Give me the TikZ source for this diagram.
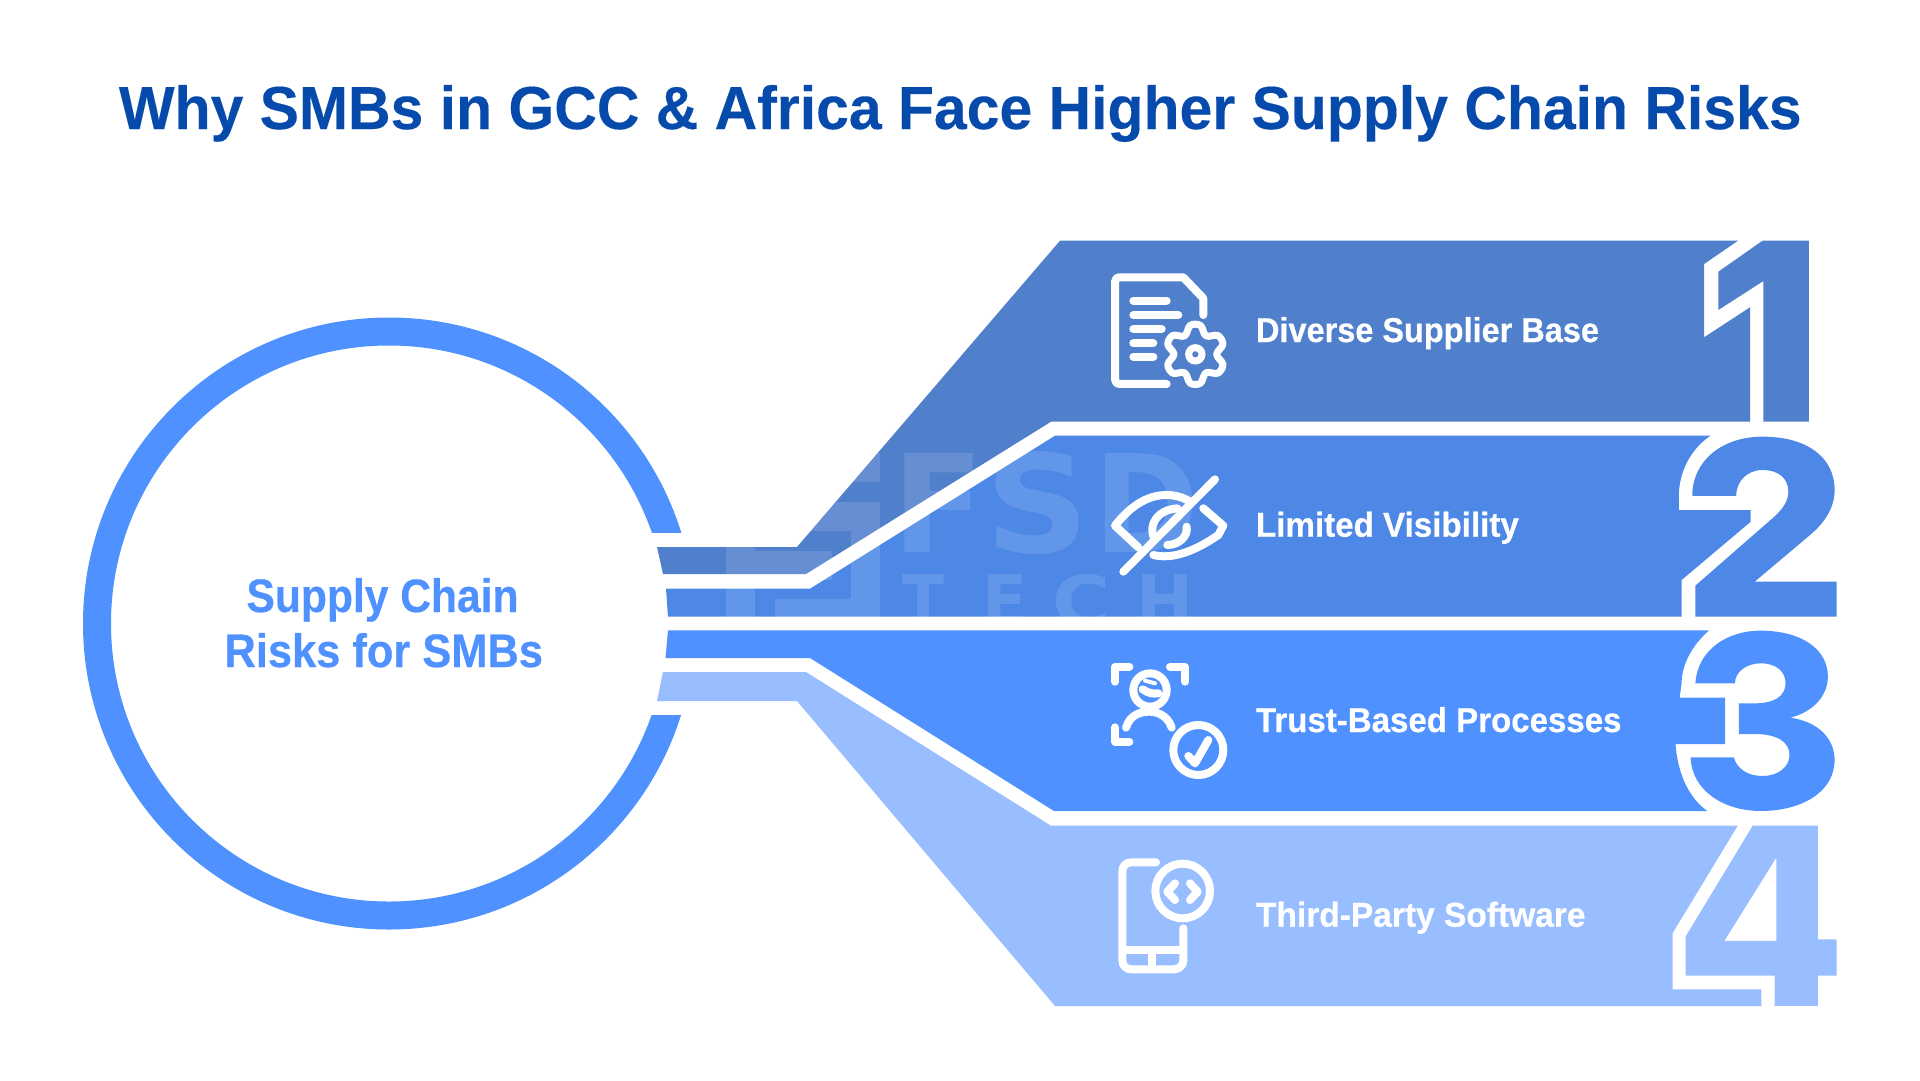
\documentclass[tikz,border=0pt]{standalone}
\usepackage{graphicx}
\usepackage{fontspec}
\setmainfont{Liberation Sans}
\newfontfamily\heavyfont{Liberation Sans}[BoldFeatures={FakeBold=0.5}]
\newfontfamily\titlefont{Liberation Sans}[BoldFeatures={FakeBold=0.25}]
\newfontfamily\wmfont{DejaVu Sans}
\definecolor{barA}{HTML}{5080CC}
\definecolor{barB}{HTML}{4D88E6}
\definecolor{barC}{HTML}{4F92FF}
\definecolor{barD}{HTML}{99BEFF}
\definecolor{titleblue}{HTML}{064BAC}
\tikzset{
  zup/.style={xshift=1300pt,yshift=-220pt,x=0.3954pt,y=-0.3333pt},
  zlow/.style={xshift=1300pt,yshift=-620pt,x=0.3954pt,y=-0.3333pt},
  iconbox/.style={x=0.3333pt,y=-0.3333pt},
  iconline/.style={draw=white,line cap=round,line join=round,line width=8pt},
  thinline/.style={draw=white,line cap=round,line join=round,line width=7pt},
  txt/.style={inner sep=0pt,outer sep=0pt,anchor=base west},
  wmark/.style={inner sep=0pt,outer sep=0pt,anchor=base west,text=white,text opacity=0.12},
}
\newcommand{\fitbold}[3]{\resizebox{#1pt}{#2pt}{\heavyfont\bfseries #3}}
\newcommand{\fittitle}[3]{\resizebox{#1pt}{#2pt}{\titlefont\bfseries #3}}
\newcommand{\fitmark}[3]{\resizebox{#1pt}{#2pt}{\wmfont\bfseries #3}}
\begin{document}
\begin{tikzpicture}[x=1pt,y=-1pt]
\useasboundingbox (0,0) rectangle (1920,1080);
\fill[white] (0,0) rectangle (1920,1080);

% title
\node[txt,text=titleblue] (title) at (119,129) {\fittitle{1682}{44}{Why SMBs in GCC \& Africa Face Higher Supply Chain Risks}};

% ring
\fill[barC,even odd rule] (389,623.5) circle[radius=306] (389,623.5) circle[radius=278];
\fill[white] (640,532.7) rectangle (700,714.6);

% bars
\fill[barA] (657,547) -- (797,547) -- (1060,240.7) -- (1738,240.7) -- (1704.1,264) -- (1704.1,337.3) -- (1750,307.3) -- (1750,421.7) -- (1051,421.7) -- (806,574) -- (663,574) -- cycle;
\begin{scope}[zup]
\fill[barA] (1170,62) -- (1058,155) -- (1058,270) -- (1172,183) -- (1172,605) -- (1287,605) -- (1287,62) -- cycle;
\end{scope}

\fill[barB] (666,588.7) -- (810,588.7) -- (1055,435.7) -- (1710.4,435.7) .. controls (1689.5,450) and (1678.8,473) .. (1678.8,496.7) -- (1678.8,510) -- (1750.7,510) -- (1750.7,521.7) -- (1681.6,580) -- (1681.6,616.7) -- (668,616.7) -- cycle;
\begin{scope}[zup]
\fill[barB] (1000,1190) -- (1000,1097) -- (1190,900) .. controls (1220,870) and (1235,845) .. (1235,815) .. controls (1235,775) and (1210,750) .. (1170,750) .. controls (1130,750) and (1103,785) .. (1103,828) -- (992,828) .. controls (992,725) and (1065,650) .. (1170,650) .. controls (1280,650) and (1352,710) .. (1352,810) .. controls (1352,860) and (1330,905) .. (1290,945) -- (1150,1085) -- (1357,1085) -- (1357,1190) -- cycle;
\end{scope}

\fill[barC] (668,630.3) -- (1709.2,630.3) .. controls (1692,645) and (1681.6,665) .. (1681.6,683.3) -- (1679.6,697.7) -- (1725,697.7) -- (1725,744) -- (1675.6,744) .. controls (1677.6,776.7) and (1691.4,800) .. (1707.3,811) -- (1054,811) -- (810,658) -- (665.5,658) -- cycle;
\begin{scope}[zlow]
\fill[barC] (1000,190) .. controls (1005,90) and (1080,32) .. (1165,32) .. controls (1265,32) and (1335,85) .. (1335,170) .. controls (1335,225) and (1300,275) .. (1240,293) .. controls (1310,305) and (1352,355) .. (1352,420) .. controls (1352,515) and (1270,573) .. (1165,573) .. controls (1070,573) and (990,510) .. (988,412) -- (1097,412) .. controls (1105,445) and (1130,468) .. (1170,468) .. controls (1210,468) and (1238,440) .. (1238,405) .. controls (1238,365) and (1205,342) .. (1150,342) -- (1110,342) -- (1110,250) -- (1150,250) .. controls (1200,250) and (1228,228) .. (1228,190) .. controls (1228,155) and (1205,130) .. (1165,130) .. controls (1130,130) and (1100,155) .. (1100,190) -- cycle;
\end{scope}

\fill[barD] (663,672) -- (806,672) -- (1051,825.7) -- (1737.7,825.7) -- (1672.5,933.3) -- (1672.5,989.3) -- (1761.4,989.3) -- (1761.4,1006) -- (1055,1006) -- (797,701) -- (657,701) -- cycle;
\begin{scope}[zlow]
\fill[barD,even odd rule] (1145,617) -- (975,950) -- (975,1067) -- (1200,1067) -- (1200,1158) -- (1310,1158) -- (1310,1067) -- (1357,1067) -- (1357,958) -- (1310,958) -- (1310,617) -- cycle (1205,712) -- (1073,963) -- (1205,963) -- cycle;
\end{scope}

% watermark
\begin{scope}
\clip (0,0) rectangle (1920,617);
\fill[white,fill opacity=0.12] (780,453) rectangle (880,482)
  (780,502) rectangle (880,531) (851,531) rectangle (880,617)
  (775,599) rectangle (851,617)
  (755,551) rectangle (832,580) (726,530) rectangle (755,617);
\node[wmark] (wmF) at (892,552) {\fitmark{92}{99}{F}};
\node[wmark] (wmS) at (985,552) {\fitmark{104}{101}{S}};
\node[wmark] (wmD) at (1093,552) {\fitmark{106}{99}{D}};
\node[wmark] (wmT) at (902,626) {\fitmark{42}{52}{T}};
\node[wmark] (wmE) at (982,626) {\fitmark{45}{52}{E}};
\node[wmark] (wmC) at (1052,626) {\fitmark{58}{52}{C}};
\node[wmark] (wmH) at (1136,626) {\fitmark{57}{52}{H}};
\end{scope}

% labels
\node[txt,text=white] (lab1) at (1256,342) {\fitbold{343}{25}{Diverse Supplier Base}};
\node[txt,text=white] (lab2) at (1256,536.7) {\fitbold{262.7}{25}{Limited Visibility}};
\node[txt,text=white] (lab3) at (1256,732) {\fitbold{365.5}{25}{Trust-Based Processes}};
\node[txt,text=white] (lab4) at (1256,926.7) {\fitbold{329.5}{25}{Third-Party Software}};
\node[txt,text=barC] (cen1) at (246.5,612) {\fitbold{272}{34}{Supply Chain}};
\node[txt,text=barC] (cen2) at (224.5,667) {\fitbold{318.5}{34}{Risks for SMBs}};

% icon 1
\begin{scope}[xshift=1090pt,yshift=-260pt,iconbox]
\draw[iconline] (230,372) -- (90,372) .. controls (80,372) and (75,365) .. (75,358) -- (75,66) .. controls (75,58) and (80,52) .. (90,52) -- (280,52) -- (340,115) -- (340,165);
\draw[iconline] (130,122) -- (230,122) (130,165) -- (265,165) (130,207) -- (215,207) (130,250) -- (190,250) (130,290) -- (190,290);
\begin{scope}[shift={(316,283)}]
\draw[thinline] plot[smooth cycle,tension=0.6] coordinates {(80:88) (100:88) (120:64) (140:88) (160:88) (180:64) (200:88) (220:88) (240:64) (260:88) (280:88) (300:64) (320:88) (340:88) (0:64) (20:88) (40:88) (60:64)};
\draw[white,line width=7pt] (0,0) circle[radius=20];
\end{scope}
\end{scope}

% icon 2
\begin{scope}[xshift=1090pt,yshift=-460pt,iconbox]
\draw[iconline] (145,262) -- (75,197) .. controls (120,140) and (170,105) .. (230,105) .. controls (255,105) and (280,112) .. (300,125);
\draw[iconline] (340,145) -- (400,197) -- (385,225) .. controls (320,270) and (250,300) .. (190,285);
\draw[iconline] (100,335) -- (375,58);
\draw[iconline] (192,235) .. controls (175,195) and (200,150) .. (262,145);
\draw[iconline] (290,200) .. controls (295,230) and (265,255) .. (232,255);
\end{scope}

% icon 3
\begin{scope}[xshift=1090pt,yshift=-650pt,iconbox]
\draw[iconline] (75,95) -- (75,50) -- (118,50) (240,50) -- (285,50) -- (285,95) (75,232) -- (75,275) -- (118,275);
\draw[iconline] (180,120) circle[radius=50];
\draw[white,line width=4pt,line cap=round] (165,92) -- (195,100);
\draw[iconline] (158,118) .. controls (175,130) and (190,132) .. (205,130);
\draw[iconline] (108,233) .. controls (120,195) and (150,185) .. (178,185) .. controls (205,185) and (235,200) .. (245,233);
\draw[iconline] (325,300) circle[radius=75];
\draw[iconline] (295,318) -- (315,340) -- (355,270);
\end{scope}

% icon 4
\begin{scope}[xshift=1090pt,yshift=-845pt,iconbox]
\draw[iconline] (198,52) -- (125,52) .. controls (105,52) and (97,65) .. (97,80) -- (97,345) .. controls (97,365) and (110,373) .. (125,373) -- (250,373) .. controls (270,373) and (280,360) .. (280,345) -- (280,250);
\draw[iconline,line cap=butt] (97,315) -- (280,315) (185,315) -- (185,373);
\draw[iconline] (278,138) circle[radius=82];
\draw[iconline] (255,115) -- (232,140) -- (255,165) (300,115) -- (323,140) -- (300,165);
\end{scope}
\end{tikzpicture}
\end{document}
